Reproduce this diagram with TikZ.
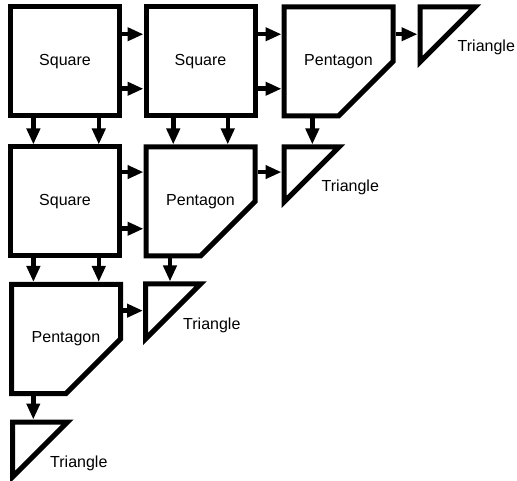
\documentclass[tikz,border=0pt]{standalone}
\usepackage{fontspec}
\setmainfont{Liberation Sans}
\usetikzlibrary{calc,arrows.meta}
\tikzset{
  box/.style={rectangle, inner sep=0pt, outer sep=0pt, minimum width=109pt, minimum height=109pt, font=\fontsize{16}{19}\selectfont},
  sqbox/.style={box, draw, line width=5pt},
  tribox/.style={rectangle, inner sep=0pt, outer sep=0pt, minimum width=55pt, minimum height=55pt},
  outline/.style={line width=5pt, line join=miter},
  arr/.style={line width=4.5pt, -{Triangle[length=16pt,width=13pt]}, shorten <=2.5pt, shorten >=2.5pt},
  lbl/.style={anchor=base west, font=\fontsize{16}{19}\selectfont, inner sep=0pt}
}
\newcommand\harr[3]{\path ($(#1.north east)!#3!(#1.south east)$) coordinate (tmp); \draw[arr] (tmp) -- (tmp -| #2.west);}
\newcommand\varr[3]{\path ($(#1.south west)!#3!(#1.south east)$) coordinate (tmp); \draw[arr] (tmp) -- (tmp |- #2.north);}
\newcommand\pent[1]{\draw[outline] (#1.north west) -- (#1.north east) -- (#1.east) -- (#1.south) -- (#1.south west) -- cycle;}
\newcommand\tri[1]{\draw[outline] (#1.north west) -- (#1.north east) -- (#1.south west) -- cycle;}
\begin{document}
\begin{tikzpicture}[x=1pt,y=-1pt]
\useasboundingbox (0,0) rectangle (517,481);
% row 0
\node[sqbox] (s00) at (65,61.5) {Square};
\node[sqbox] (s01) at (200.5,61.5) {Square};
\node[box] (p02) at (338.5,61.5) {Pentagon};
\node[tribox] (t03) at (447.5,34.5) {};
% row 1
\node[sqbox] (s10) at (65,201.5) {Square};
\node[box] (p11) at (200.5,201.5) {Pentagon};
\node[tribox] (t12) at (311.5,174.5) {};
% row 2
\node[box] (p20) at (66,339) {Pentagon};
\node[tribox] (t21) at (173,311.5) {};
% row 3
\node[tribox] (t30) at (40,449.5) {};
% shapes
\pent{p02}\pent{p11}\pent{p20}
\tri{t03}\tri{t12}\tri{t21}\tri{t30}
% labels
\node[lbl] (l03) at ($(t03.north west)+(37.5,45)$) {Triangle};
\node[lbl] (l12) at ($(t12.north west)+(37.5,45)$) {Triangle};
\node[lbl] (l21) at ($(t21.north west)+(37.5,45)$) {Triangle};
\node[lbl] (l30) at ($(t30.north west)+(37.5,45)$) {Triangle};
% horizontal arrows
\harr{s00}{s01}{0.25}\harr{s00}{s01}{0.75}
\harr{s01}{p02}{0.25}\harr{s01}{p02}{0.75}
\harr{p02}{t03}{0.25}
\harr{s10}{p11}{0.23}\harr{s10}{p11}{0.75}
\harr{p11}{t12}{0.23}
\harr{p20}{t21}{0.24}
% vertical arrows
\varr{s00}{s10}{0.21}\varr{s00}{s10}{0.81}
\varr{s01}{p11}{0.25}\varr{s01}{p11}{0.75}
\varr{p02}{t12}{0.26}
\varr{s10}{p20}{0.21}\varr{s10}{p20}{0.81}
\varr{p11}{t21}{0.22}
\varr{p20}{t30}{0.2}
\end{tikzpicture}
\end{document}
